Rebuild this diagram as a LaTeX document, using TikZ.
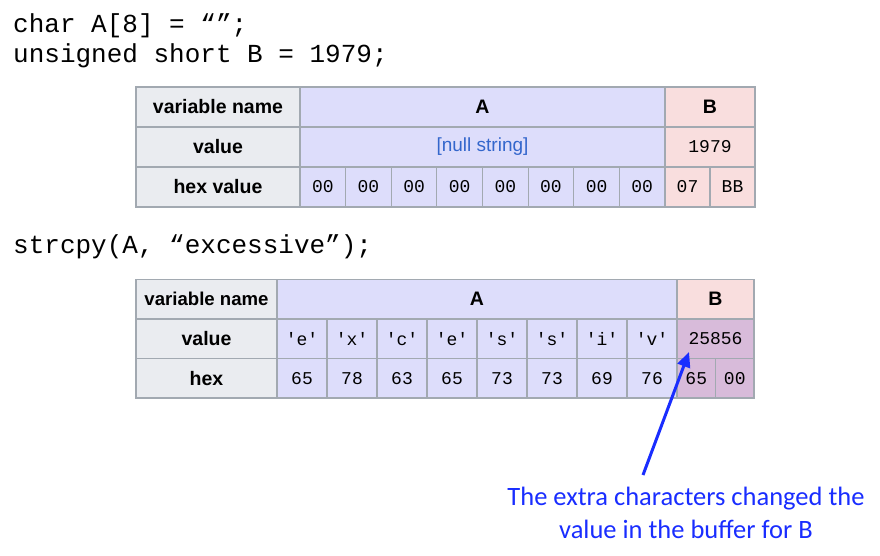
\documentclass[tikz,border=0pt]{standalone}
\usepackage{fontspec}
\setmainfont{Liberation Sans}
\setmonofont{Liberation Mono}
\newfontfamily\notefont{Carlito}
\usetikzlibrary{arrows.meta}

\definecolor{hdrgray}{HTML}{EAECF0}
\definecolor{gridgray}{HTML}{A2A9B1}
\definecolor{fillA}{HTML}{DDDDFB}
\definecolor{fillB}{HTML}{F9DEDE}
\definecolor{fillBA}{HTML}{D8BBDA}
\definecolor{linkblue}{HTML}{3366CC}
\definecolor{noteblue}{RGB}{25,45,255}

\begin{document}
\begin{tikzpicture}[x=1pt,y=-1pt,
    cell/.style={draw=gridgray, line width=1.2pt, inner sep=0pt, outer sep=0pt,
      anchor=north west, font=\fontsize{18}{20}\selectfont},
    hdr/.style={cell, fill=hdrgray, font=\fontsize{19.5}{21}\selectfont\bfseries},
    cellA/.style={cell, fill=fillA},
    cellB/.style={cell, fill=fillB},
    cellBA/.style={cell, fill=fillBA},
    code/.style={anchor=base west, inner sep=0pt, font=\fontsize{26}{30}\selectfont\ttfamily},
    note/.style={align=center, text=noteblue, font=\fontsize{26.5}{33}\selectfont\notefont}]
    \useasboundingbox (0,0) rectangle (880,556);

    % Declarations
    \node[code] (decl1) at (13,33) {char A[8] = “”;};
    \node[code] (decl2) at (13,63) {unsigned short B = 1979;};

    % First table
    \node[hdr, minimum width=164pt, minimum height=40pt] (nameL) at (136,87) {variable name};
    \node[hdr, minimum width=164pt, minimum height=40pt] (valL) at (136,127) {value};
    \node[hdr, minimum width=164pt, minimum height=40pt] (hexL) at (136,167) {hex value};
    \node[cellA, minimum width=365pt, minimum height=40pt, font=\fontsize{19.5}{21}\selectfont\bfseries] (nameA) at (300,87) {A};
    \node[cellA, minimum width=365pt, minimum height=40pt, text=linkblue, font=\fontsize{19}{21}\selectfont] (valA) at (300,127) {[null string]};
    \node[cellB, minimum width=90pt, minimum height=40pt, font=\fontsize{19.5}{21}\selectfont\bfseries] (nameB) at (665,87) {B};
    \node[cellB, minimum width=90pt, minimum height=40pt, font=\fontsize{18}{20}\selectfont\ttfamily] (valB) at (665,127) {1979};
    \foreach \i in {0,...,7}
      \node[cellA, minimum width=45.625pt, minimum height=40pt, font=\fontsize{18}{20}\selectfont\ttfamily] (hexA\i) at ({300+45.625*\i},167) {00};
    \node[cellB, minimum width=45pt, minimum height=40pt, font=\fontsize{18}{20}\selectfont\ttfamily] (hexB0) at (665,167) {07};
    \node[cellB, minimum width=45pt, minimum height=40pt, font=\fontsize{18}{20}\selectfont\ttfamily] (hexB1) at (710,167) {BB};

    % Copy call
    \node[code] (copy) at (13,253) {strcpy(A, “excessive”);};

    % Second table
    \node[hdr, minimum width=141pt, minimum height=39.5pt, font=\fontsize{18.6}{20}\selectfont\bfseries] (nameL2) at (136,279.5) {variable name};
    \node[hdr, minimum width=141pt, minimum height=39.5pt] (valL2) at (136,319) {value};
    \node[hdr, minimum width=141pt, minimum height=39.5pt] (hexL2) at (136,358.5) {hex};
    \node[cellA, minimum width=400pt, minimum height=39.5pt, font=\fontsize{19.5}{21}\selectfont\bfseries] (nameA2) at (277,279.5) {A};
    \node[cellB, minimum width=77pt, minimum height=39.5pt, font=\fontsize{19.5}{21}\selectfont\bfseries] (nameB2) at (677,279.5) {B};
    \foreach \ch [count=\i from 0] in {e,x,c,e,s,s,i,v}
      \node[cellA, minimum width=50pt, minimum height=39.5pt, font=\fontsize{18}{20}\selectfont\ttfamily] (chA\i) at ({277+50*\i},319) {\textquotesingle\ch\textquotesingle};
    \foreach \hx [count=\i from 0] in {65,78,63,65,73,73,69,76}
      \node[cellA, minimum width=50pt, minimum height=39.5pt, font=\fontsize{18}{20}\selectfont\ttfamily] (hxA\i) at ({277+50*\i},358.5) {\hx};
    \node[cellBA, minimum width=77pt, minimum height=39.5pt, font=\fontsize{18}{20}\selectfont\ttfamily] (valB2) at (677,319) {25856};
    \node[cellBA, minimum width=38.5pt, minimum height=39.5pt, font=\fontsize{18}{20}\selectfont\ttfamily] (hxB0) at (677,358.5) {65};
    \node[cellBA, minimum width=38.5pt, minimum height=39.5pt, font=\fontsize{18}{20}\selectfont\ttfamily] (hxB1) at (715.5,358.5) {00};

    % Annotation
    \node[note] (note) at (686,513) {The extra characters changed the\\value in the buffer for B};
    \coordinate (tail) at (643,475);
    \coordinate (tip) at (689,352);
    \draw[-{Triangle[length=15pt,width=13pt]}, line width=3pt, noteblue] (tail) -- (tip);
\end{tikzpicture}
\end{document}
